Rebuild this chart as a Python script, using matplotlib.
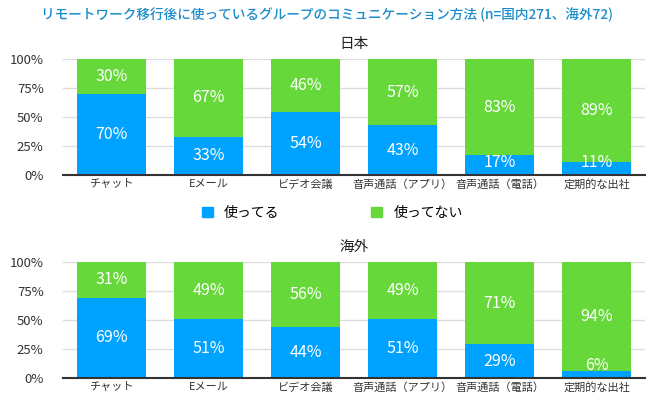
import matplotlib
matplotlib.use("Agg")
import matplotlib.pyplot as plt
from matplotlib.patches import Patch

plt.rcParams['font.family'] = ['Noto Sans CJK JP', 'DejaVu Sans']

categories = ["チャット", "Eメール", "ビデオ会議", "音声通話（アプリ）", "音声通話（電話）", "定期的な出社"]
japan_used = [70, 33, 54, 43, 17, 11]
japan_not = [30, 67, 46, 57, 83, 89]
overseas_used = [69, 51, 44, 51, 29, 6]
overseas_not = [31, 49, 56, 49, 71, 94]
yticks = [0, 25, 50, 75, 100]
yticklabels = ["0%", "25%", "50%", "75%", "100%"]

BLUE = "#00a2ff"
GREEN = "#66d83a"

fig = plt.figure(figsize=(6.5, 3.98), dpi=100)
fig.text(0.503, 0.962, "リモートワーク移行後に使っているグループのコミュニケーション方法 (n=国内271、海外72)",
         ha="center", va="center", color="#1a8ccc", fontsize=9.8, fontweight="medium")

def draw(ax, used, notu, title):
    x = range(len(categories))
    ax.bar(x, used, width=0.72, color=BLUE, zorder=2)
    ax.bar(x, notu, width=0.72, bottom=used, color=GREEN, zorder=2)
    for i, (u, n) in enumerate(zip(used, notu)):
        ax.text(i, max(u / 2, 11), f"{u}%", ha="center", va="center", color="white", fontsize=11.5)
        ax.text(i, u + n / 2, f"{n}%", ha="center", va="center", color="white", fontsize=11.5)
    ax.set_ylim(0, 100)
    ax.set_xlim(-0.5, len(categories) - 0.5)
    ax.set_yticks(yticks)
    ax.set_yticklabels(yticklabels, fontsize=9.5, color="#333333")
    ax.set_xticks(list(x))
    ax.set_xticklabels(categories, fontsize=8, color="#333333")
    ax.yaxis.grid(True, color="#dddddd", linewidth=1, zorder=0)
    ax.set_axisbelow(True)
    for s in ["top", "right", "left"]:
        ax.spines[s].set_visible(False)
    ax.spines["bottom"].set_color("#333333")
    ax.spines["bottom"].set_linewidth(1.5)
    ax.tick_params(axis="x", length=0, pad=3)
    ax.tick_params(axis="y", length=0, pad=14)
    ax.set_title(title, fontsize=10.5, color="#222222", pad=8)

ax1 = fig.add_axes([63 / 650, 1 - 175 / 398, 582 / 650, 116 / 398])
ax2 = fig.add_axes([63 / 650, 1 - 378 / 398, 582 / 650, 116 / 398])
draw(ax1, japan_used, japan_not, "日本")
draw(ax2, overseas_used, overseas_not, "海外")

handles = [Patch(color=BLUE, label="使ってる"), Patch(color=GREEN, label="使ってない")]
fig.legend(handles=handles, loc="center", bbox_to_anchor=(0.511, 1 - 213 / 398), ncol=2,
           frameon=False, fontsize=10, handlelength=0.8, handleheight=0.8, columnspacing=6.6,
           handletextpad=0.8)

fig.savefig("out.png", dpi=100)
